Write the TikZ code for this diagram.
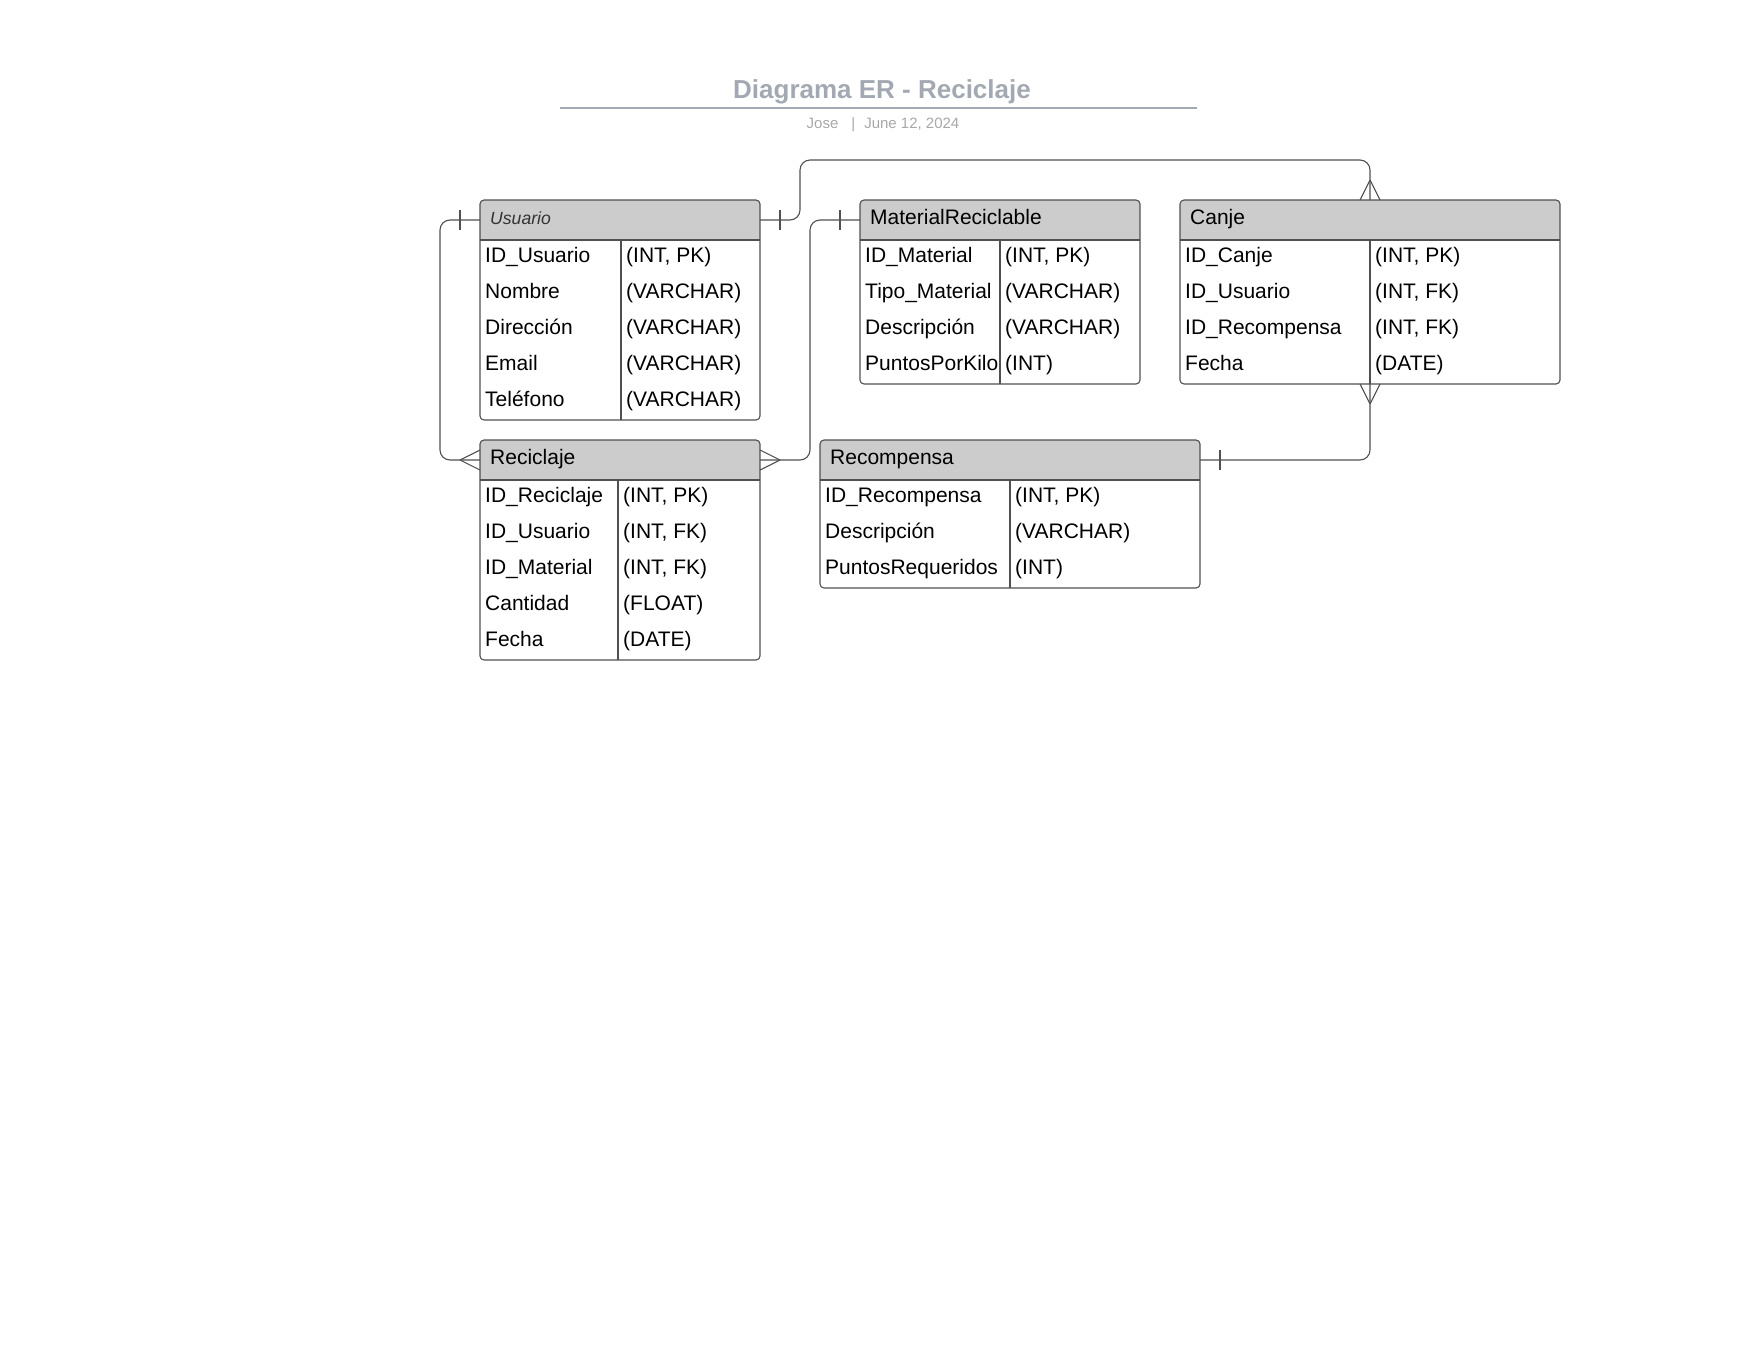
\documentclass[tikz,border=0pt]{standalone}
\usepackage{fontspec}
\setmainfont{Liberation Sans}
\definecolor{edgegray}{HTML}{505050}
\definecolor{headfill}{HTML}{CCCCCC}
\definecolor{titlegray}{HTML}{A3A9B2}
\definecolor{subgray}{HTML}{A8A8A8}
\definecolor{usrgray}{HTML}{333333}

\tikzset{
  tbl/.style={draw=edgegray, line width=1.1pt, rounded corners=4pt},
  tblline/.style={draw=edgegray, line width=1.1pt},
  headtxt/.style={anchor=base west, inner sep=0pt, font=\fontsize{21}{25}\selectfont},
  cell/.style={anchor=base west, inner sep=0pt, font=\fontsize{21}{25}\selectfont},
  rel/.style={draw=edgegray, line width=1.1pt, rounded corners=10pt},
  erline/.style={draw=edgegray, line width=1.1pt},
  titletxt/.style={text=titlegray, font=\bfseries\fontsize{26}{30}\selectfont},
  titleline/.style={draw=titlegray, line width=2pt},
  subtxt/.style={text=subgray, font=\fontsize{15}{18}\selectfont},
  one/.pic={\draw[erline] (-20,-10) -- (-20,10);},
  many/.pic={\draw[erline] (-20,0) -- (0,-10) (-20,0) -- (0,10);},
}

% #1 name, #2 left, #3 top, #4 right, #5 column line, #6 rows, #7 title, #8 fields
\newcommand{\erentity}[8]{%
  \coordinate (#1-nw) at (#2,#3);
  \coordinate (#1-se) at (#4,#3+40+36*#6);
  \coordinate (#1-w) at (#2,#3+20);
  \coordinate (#1-e) at (#4,#3+20);
  \coordinate (#1-top) at (#5,#3);
  \coordinate (#1-bot) at (#5,#3+40+36*#6);
  \begin{scope}
    \clip[rounded corners=4pt] (#1-nw) rectangle (#1-se);
    \fill[headfill] (#1-nw) rectangle (#4,#3+40);
  \end{scope}
  \draw[tbl] (#1-nw) rectangle (#1-se);
  \draw[tblline] (#2,#3+40) -- (#4,#3+40) (#5,#3+40) -- (#1-bot);
  \node[headtxt] (#1) at (#2+10,#3+24.5) {#7};
  \foreach \fld/\typ [count=\i] in {#8} {
    \node[cell] (#1-f\i) at (#2+5,#3+26.7+36*\i) {\fld};
    \node[cell] (#1-t\i) at (#5+5,#3+26.7+36*\i) {\typ};
  }
}

\begin{document}
\begin{tikzpicture}[x=1pt,y=-1pt]
  \useasboundingbox (0,0) rectangle (1760,1360);
  % title
  \node[titletxt] (title) at (882,92) {Diagrama ER - Reciclaje};
  \draw[titleline] (560,107.7) -- (1197,107.7);
  \node[subtxt] (sub) at (883,125) {Jose\hspace{13pt}|\hspace{9pt}June 12, 2024};

  % tables
  \erentity{usuario}{480}{200}{760}{621}{5}{\color{usrgray}\itshape\fontsize{17.6}{20}\selectfont Usuario}
    {ID\_Usuario/{(INT, PK)}, Nombre/(VARCHAR), Dirección/(VARCHAR), Email/(VARCHAR), Teléfono/(VARCHAR)}
  \erentity{material}{860}{200}{1140}{1000}{4}{MaterialReciclable}
    {ID\_Material/{(INT, PK)}, Tipo\_Material/(VARCHAR), Descripción/(VARCHAR), PuntosPorKilo/(INT)}
  \erentity{canje}{1180}{200}{1560}{1370}{4}{Canje}
    {ID\_Canje/{(INT, PK)}, ID\_Usuario/{(INT, FK)}, ID\_Recompensa/{(INT, FK)}, Fecha/(DATE)}
  \erentity{reciclaje}{480}{440}{760}{618}{5}{Reciclaje}
    {ID\_Reciclaje/{(INT, PK)}, ID\_Usuario/{(INT, FK)}, ID\_Material/{(INT, FK)}, Cantidad/(FLOAT), Fecha/(DATE)}
  \erentity{recompensa}{820}{440}{1200}{1010}{3}{Recompensa}
    {ID\_Recompensa/{(INT, PK)}, Descripción/(VARCHAR), PuntosRequeridos/(INT)}

  % relations
  \draw[rel] (usuario-w) -- ++(-40,0) |- (reciclaje-w);
  \draw[rel] (usuario-e) -| ++(40,-60) -| (canje-top);
  \draw[rel] (reciclaje-e) -- ++(50,0) |- (material-w);
  \draw[rel] (canje-bot) |- (recompensa-e);

  \pic at (usuario-w) {one};
  \pic[rotate=180] at (usuario-e) {one};
  \pic at (reciclaje-w) {many};
  \pic[rotate=180] at (reciclaje-e) {many};
  \pic at (material-w) {one};
  \pic[rotate=-90] at (canje-top) {many};
  \pic[rotate=90] at (canje-bot) {many};
  \pic[rotate=180] at (recompensa-e) {one};
\end{tikzpicture}
\end{document}
